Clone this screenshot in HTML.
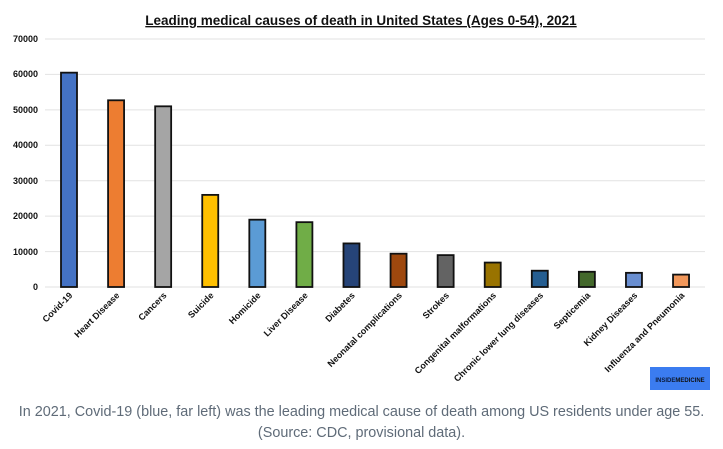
<!DOCTYPE html>
<html><head><style>
body{margin:0;background:#fff;width:723px;height:449px;overflow:hidden;font-family:"Liberation Sans",Arial,sans-serif}
.cap{position:absolute;left:0;width:723px;top:402px;text-align:center;color:#5f6b78;font-size:14.4px;line-height:21px}
</style></head><body>
<svg width="723" height="449" style="position:absolute;left:0;top:0" font-family="Liberation Sans, Arial, sans-serif">
<text x="361" y="25" text-anchor="middle" font-size="13.5" font-weight="bold" text-decoration="underline" fill="#111"> Leading medical causes of death in United States (Ages 0-54), 2021</text>
<g stroke="#e2e2e2" stroke-width="1">
<line x1="45" x2="705" y1="39" y2="39"/><line x1="45" x2="705" y1="74.4" y2="74.4"/><line x1="45" x2="705" y1="109.9" y2="109.9"/><line x1="45" x2="705" y1="145.3" y2="145.3"/><line x1="45" x2="705" y1="180.7" y2="180.7"/><line x1="45" x2="705" y1="216.1" y2="216.1"/><line x1="45" x2="705" y1="251.6" y2="251.6"/><line x1="45" x2="705" y1="287" y2="287"/>
</g>
<g font-size="9" font-weight="bold" fill="#111" text-anchor="end">
<text x="38" y="42">70000</text><text x="38" y="77">60000</text><text x="38" y="113">50000</text><text x="38" y="148">40000</text><text x="38" y="184">30000</text><text x="38" y="219">20000</text><text x="38" y="255">10000</text><text x="38" y="290">0</text>
</g>
<g stroke="#111" stroke-width="1.8" id="bars"></g>
<g id="labels" font-size="9" font-weight="bold" fill="#111" text-anchor="end"></g>
<rect x="650" y="367" width="60" height="23" fill="#3b7cf0"/>
<text x="680" y="382" text-anchor="middle" font-size="6" font-weight="bold" fill="#0a1a3a">INSIDE<tspan fill="#111">MEDICINE</tspan></text>
</svg>
<div class="cap">In 2021, Covid-19 (blue, far left) was the leading medical cause of death among US residents under age 55.<br>(Source: CDC, provisional data).</div>
<script>
var d=[["Covid-19",60500,"#4472c4"],["Heart Disease",52700,"#ed7d31"],["Cancers",51000,"#a5a5a5"],["Suicide",26000,"#ffc000"],["Homicide",19000,"#5b9bd5"],["Liver Disease",18300,"#70ad47"],["Diabetes",12300,"#264478"],["Neonatal complications",9400,"#9e480e"],["Strokes",9000,"#636363"],["Congenital malformations",6900,"#997300"],["Chronic lower lung diseases",4600,"#255e91"],["Septicemia",4300,"#43682b"],["Kidney Diseases",4000,"#698ed0"],["Influenza and Pneumonia",3500,"#f1975a"]];
var ns="http://www.w3.org/2000/svg",b=document.getElementById("bars"),l=document.getElementById("labels");
d.forEach(function(e,i){var cx=69+i*47.08,h=e[1]*248/70000;
var r=document.createElementNS(ns,"rect");r.setAttribute("x",cx-8);r.setAttribute("y",287-h);r.setAttribute("width",16);r.setAttribute("height",h);r.setAttribute("fill",e[2]);b.appendChild(r);
var t=document.createElementNS(ns,"text");t.setAttribute("transform","translate("+(cx+4)+",296) rotate(-45)");t.textContent=e[0];l.appendChild(t);});
</script>
</body></html>
